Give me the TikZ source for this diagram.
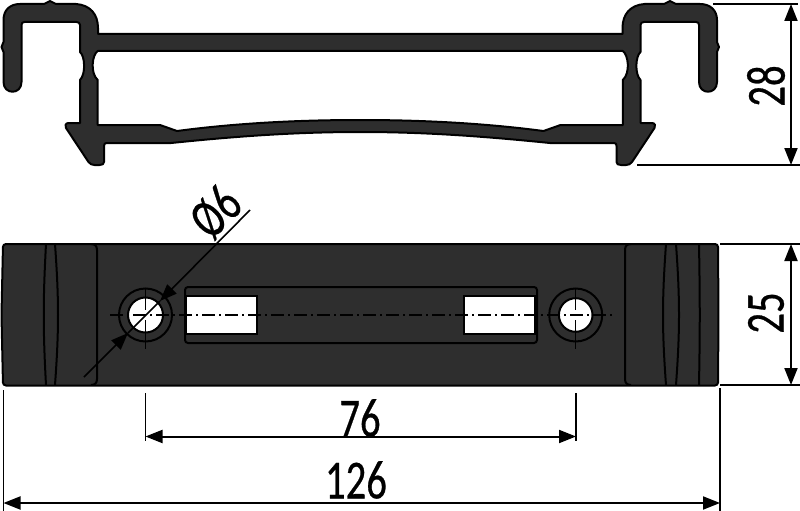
\documentclass[tikz,border=0pt]{standalone}
\usepackage{fontspec}
\setmainfont[FakeStretch=.74, FakeBold=.5]{Carlito}
\usetikzlibrary{arrows.meta}
\definecolor{partfill}{HTML}{2E2E2E}
\tikzset{
  part/.style={fill=partfill, draw=black, line width=2pt, line join=round},
  edgeline/.style={draw=black, line width=2pt},
  extline/.style={draw=black, line width=1.4pt},
  dimline/.style={draw=black, line width=2pt, {Triangle[length=17pt,width=13pt]}-{Triangle[length=17pt,width=13pt]}},
  leaderline/.style={draw=black, line width=1.6pt, -{Triangle[length=17pt,width=13pt]}},
  centreline/.style={draw=black, line width=1.6pt, dash pattern=on 13pt off 4pt on 2pt off 4pt},
  dimtext/.style={font=\fontsize{55}{55}\selectfont, inner sep=0pt}
}
\newcommand{\drawwindow}[2]{
  \draw[edgeline, fill=white] (#1, 296) rectangle (#2, 334);
}
\begin{document}
\begin{tikzpicture}[x=1pt, y=-1pt]
  \useasboundingbox (0, 0) rectangle (800, 511);
  % end view
  \draw[part, even odd rule] (3.5, 82) -- (3.5, 52) -- (1.5, 47) -- (3.5, 42) -- (3.5, 20)
    .. controls (3.5, 10) and (10, 4) .. (20, 4) -- (44, 4) -- (50, 1) -- (56, 4) -- (76, 4)
    .. controls (90, 5) and (98, 14) .. (98, 28) -- (98, 34) -- (622.5, 34) -- (622.5, 28)
    .. controls (622.5, 14) and (630.5, 5) .. (644.5, 4) -- (664, 4) -- (670, 1) -- (676, 4) -- (700, 4)
    .. controls (710, 4) and (717, 10) .. (717, 20) -- (717, 42) -- (719, 47) -- (717, 52) -- (717, 82)
    .. controls (717, 95) and (699, 95) .. (699, 82) -- (699, 25)
    .. controls (699, 23) and (698, 22) .. (696, 22) -- (644, 22)
    .. controls (642, 22) and (640.5, 23) .. (640.5, 25) -- (640.5, 52)
    .. controls (635.5, 56) and (634.5, 74) .. (640.5, 80) -- (640.5, 123) -- (652, 123)
    .. controls (655, 123) and (656, 126) .. (654.5, 128) -- (632, 162)
    .. controls (631, 164) and (628, 165) .. (626, 165) -- (621, 165)
    .. controls (618, 165) and (616.5, 164) .. (616.5, 162) -- (616.5, 146)
    .. controls (616.5, 144) and (616, 143) .. (614, 143) -- (550, 143)
    .. controls (490, 137) and (430, 132) .. (360.25, 132)
    .. controls (290, 132) and (230, 137) .. (171, 143) -- (106.5, 143)
    .. controls (105, 143) and (104, 144) .. (104, 146) -- (104, 162)
    .. controls (104, 164) and (102.5, 165) .. (99.5, 165) -- (94.5, 165)
    .. controls (92.5, 165) and (89.5, 164) .. (88.5, 162) -- (66, 128)
    .. controls (64.5, 126) and (65.5, 123) .. (68.5, 123) -- (80, 123) -- (80, 80)
    .. controls (86, 74) and (85, 56) .. (80, 52) -- (80, 25)
    .. controls (80, 23) and (78.5, 22) .. (76.5, 22) -- (24.5, 22)
    .. controls (22.5, 22) and (21.5, 23) .. (21.5, 25) -- (21.5, 82)
    .. controls (21.5, 95) and (3.5, 95) .. (3.5, 82) -- cycle
    (97.7, 51) .. controls (92, 55) and (90, 73) .. (97.7, 80) -- (97.7, 125) -- (160, 125) -- (177, 131)
    .. controls (230, 124) and (290, 120) .. (360.25, 120)
    .. controls (430, 120) and (490, 124) .. (543.5, 131) -- (560.5, 125) -- (622.8, 125) -- (622.8, 80)
    .. controls (630.5, 73) and (628.5, 55) .. (622.8, 51) -- cycle;
  % plan view
  \draw[part, rounded corners=3pt] (3, 244) -- (718, 244) -- (718.5, 315) -- (718, 385.5) -- (3, 385.5)
    -- (1.5, 315) -- cycle;
  \draw[edgeline] (46, 244) .. controls (43, 300) and (43, 330) .. (46, 385);
  \draw[edgeline] (55, 244) .. controls (59, 300) and (59, 330) .. (55, 385);
  \draw[edgeline] (91, 244) .. controls (95, 244) and (97, 246) .. (97, 250) -- (97, 379)
    .. controls (97, 383) and (95, 385) .. (91, 385);
  \draw[edgeline] (631, 244) .. controls (627, 244) and (625, 246) .. (625, 250) -- (625, 379)
    .. controls (625, 383) and (627, 385) .. (631, 385);
  \draw[edgeline] (666, 244) .. controls (662, 300) and (662, 330) .. (666, 385);
  \draw[edgeline] (676, 244) .. controls (680, 300) and (680, 330) .. (676, 385);
  \draw[edgeline] (699, 244) .. controls (700, 300) and (700, 330) .. (699, 385);
  \draw[edgeline, rounded corners=3pt] (185, 287) rectangle (537, 343);
  \drawwindow{186}{257}
  \drawwindow{464}{535}
  \foreach \x/\r in {145.5/17.5, 575.7/16.8} {
    \draw[edgeline] (\x, 315) circle (26.5);
    \draw[edgeline, fill=white] (\x, 315) circle (\r);
    \draw[draw=black, line width=1.4pt, dash pattern=on 22pt off 4pt on 2pt off 4pt on 30pt off 4pt on 2pt off 4pt on 22pt]
      (\x, 288) -- (\x, 349);
  }
  \draw[centreline] (110, 315) -- (613, 315);
  % dimensions
  \coordinate (lead1) at (250, 210);
  \coordinate (lead2) at (160, 301);
  \coordinate (lead3) at (128, 333);
  \coordinate (lead4) at (84, 377);
  \draw[edgeline, line width=1.6pt] (lead2) -- (lead3);
  \draw[leaderline] (lead1) -- (lead2);
  \draw[leaderline] (lead4) -- (lead3);
  \node[dimtext, rotate=45] (dia) at (216, 212) {Ø6};

  \coordinate (hA) at (713, 4);
  \coordinate (hB) at (798, 4);
  \coordinate (hC) at (637, 165);
  \coordinate (hD) at (800, 165);
  \coordinate (hE) at (791, 4);
  \coordinate (hF) at (791, 165);
  \draw[extline] (hA) -- (hB);
  \draw[extline] (hC) -- (hD);
  \draw[dimline] (hE) -- (hF);
  \node[dimtext, rotate=90] (heightval) at (766, 86) {28};

  \coordinate (wA) at (720, 244);
  \coordinate (wB) at (800, 244);
  \coordinate (wC) at (720, 385);
  \coordinate (wD) at (800, 385);
  \coordinate (wE) at (791, 244);
  \coordinate (wF) at (791, 385);
  \draw[extline] (wA) -- (wB);
  \draw[extline] (wC) -- (wD);
  \draw[dimline] (wE) -- (wF);
  \node[dimtext, rotate=90] (widthval) at (766, 313) {25};

  \coordinate (pA) at (145.5, 393);
  \coordinate (pB) at (145.5, 441);
  \coordinate (pC) at (576, 393);
  \coordinate (pD) at (576, 441);
  \coordinate (pE) at (145.5, 436.5);
  \coordinate (pF) at (576, 436.5);
  \draw[extline] (pA) -- (pB);
  \draw[extline] (pC) -- (pD);
  \draw[dimline] (pE) -- (pF);
  \node[dimtext] (pitchval) at (360, 418) {76};

  \coordinate (lA) at (3.5, 390);
  \coordinate (lB) at (3.5, 511);
  \coordinate (lC) at (720, 388);
  \coordinate (lD) at (720, 511);
  \coordinate (lE) at (3.5, 503);
  \coordinate (lF) at (720, 503);
  \draw[extline] (lA) -- (lB);
  \draw[extline] (lC) -- (lD);
  \draw[dimline] (lE) -- (lF);
  \node[dimtext] (lengthval) at (356, 480) {126};
\end{tikzpicture}
\end{document}
